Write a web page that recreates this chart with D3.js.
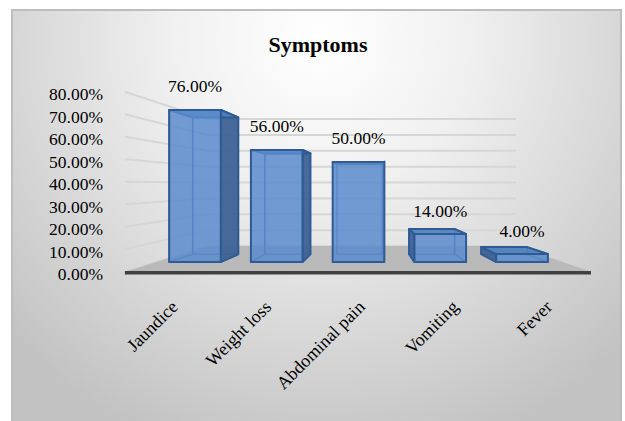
<!DOCTYPE html>
<html>
<head>
<meta charset="utf-8">
<script src="https://cdn.jsdelivr.net/npm/d3@7"></script>
<style>
body { margin: 0; background: #fff; }
svg { display: block; }
text { font-family: "Liberation Serif", "Times New Roman", serif; fill: #000; }
</style>
</head>
<body>
<script>
// Data
var categories = ['Jaundice', 'Weight loss', 'Abdominal pain', 'Vomiting', 'Fever'];
var values = [76, 56, 50, 14, 4];
var ticks = [0, 10, 20, 30, 40, 50, 60, 70, 80];

var width = 625, height = 421;
var svg = d3.select('body').append('svg')
	.attr('width', width)
	.attr('height', height);

// background
var defs = svg.append('defs');
var grad = defs.append('radialGradient')
	.attr('id', 'bg')
	.attr('gradientUnits', 'userSpaceOnUse')
	.attr('cx', 320).attr('cy', 40).attr('r', 430);
grad.append('stop').attr('offset', '0').attr('stop-color', '#ffffff');
grad.append('stop').attr('offset', '0.35').attr('stop-color', '#f0f0f0');
grad.append('stop').attr('offset', '1').attr('stop-color', '#c2c2c2');

svg.append('rect')
	.attr('x', 12).attr('y', 10)
	.attr('width', 609).attr('height', 420)
	.style('fill', 'url(#bg)')
	.style('stroke', '#bdbdbd')
	.style('stroke-width', 2);

// front plane (z=0) and back plane (z=1) of the 3d box
var xFront = d3.scaleLinear().domain([0, 5]).range([123, 591]);
var xBack = d3.scaleLinear().domain([0, 5]).range([206, 516]);
var yFront = d3.scaleLinear().domain([0, 80]).range([271.7, 91.7]);
var yBack = d3.scaleLinear().domain([0, 80]).range([246, 119]);

function proj(x, v, z) {
	return [xFront(x) * (1 - z) + xBack(x) * z, yFront(v) * (1 - z) + yBack(v) * z];
}
var line = d3.line();
var wallL = 0.02, wallR = 5;

// gridlines: side wall + back wall
var grid = svg.append('g');
ticks.forEach(function(t) {
	grid.append('path')
		.attr('d', line([proj(wallL, t, 0), proj(wallL, t, 1), proj(wallR, t, 1)]))
		.style('fill', 'none')
		.style('stroke', '#d6d6d6')
		.style('stroke-width', 2);
});

// floor
svg.append('path')
	.attr('d', line([proj(wallL, 0, 0), proj(wallR, 0, 0), proj(wallR, 0, 1), proj(wallL, 0, 1)]) + 'Z')
	.style('fill', '#b9b9b9');
var f0 = proj(wallL, 0, 0), f1 = proj(wallR, 0, 0);
svg.append('line')
	.attr('x1', f0[0]).attr('y1', f0[1] + 1)
	.attr('x2', f1[0]).attr('y2', f1[1] + 1)
	.style('stroke', '#404040')
	.style('stroke-width', 3.5);

// y axis labels
svg.append('g')
	.attr('transform', 'translate(103,2.5)')
	.call(d3.axisLeft(yFront).tickValues(ticks).tickSize(0).tickPadding(0)
		.tickFormat(function(d) { return d3.format('.2f')(d) + '%'; }))
	.call(function(g) { g.select('.domain').remove(); })
	.selectAll('text')
	.style('font-family', '"Liberation Serif", serif')
	.style('font-size', '17.5px')
	.style('fill', '#000');

// bars
var z1 = 0.375, z2 = 0.68, gap = 0.184;
var barColor = { front: '#5a8bcc', top: '#4e7ebf', side: '#3e6296', edge: '#2f5b95' };

values.forEach(function(v, i) {
	var x0 = i + gap, x1 = i + 1 - gap;
	var g = svg.append('g');
	function face(pts) { return line(pts) + 'Z'; }
	var front = [proj(x0, 0, z1), proj(x1, 0, z1), proj(x1, v, z1), proj(x0, v, z1)];
	var back = [proj(x0, 0, z2), proj(x1, 0, z2), proj(x1, v, z2), proj(x0, v, z2)];
	var top = [proj(x0, v, z1), proj(x1, v, z1), proj(x1, v, z2), proj(x0, v, z2)];
	var right = [proj(x1, 0, z1), proj(x1, 0, z2), proj(x1, v, z2), proj(x1, v, z1)];
	var left = [proj(x0, 0, z1), proj(x0, 0, z2), proj(x0, v, z2), proj(x0, v, z1)];
	var showRight = proj(x1, 0, z2)[0] > proj(x1, 0, z1)[0] + 0.5;
	var showLeft = proj(x0, 0, z2)[0] < proj(x0, 0, z1)[0] - 0.5;

	// hidden edges, seen through the faces
	[back, showRight ? left : right].forEach(function(p) {
		g.append('path').attr('d', face(p))
			.style('fill', 'none')
			.style('stroke', barColor.edge)
			.style('stroke-opacity', 0.7)
			.style('stroke-width', 1.5);
	});
	if (showRight || showLeft) {
		g.append('path').attr('d', face(showRight ? right : left))
			.style('fill', barColor.side)
			.style('fill-opacity', 0.95)
			.style('stroke', barColor.edge)
			.style('stroke-width', 2)
			.style('stroke-linejoin', 'round');
	}
	g.append('path').attr('d', face(top))
		.style('fill', barColor.top)
		.style('fill-opacity', 0.9)
		.style('stroke', barColor.edge)
		.style('stroke-width', 2)
		.style('stroke-linejoin', 'round');
	g.append('path').attr('d', face(front))
		.style('fill', barColor.front)
		.style('fill-opacity', 0.85)
		.style('stroke', barColor.edge)
		.style('stroke-width', 2)
		.style('stroke-linejoin', 'round');

	// value label
	var c = proj(i + 0.5, v, z1);
	svg.append('text')
		.attr('x', c[0])
		.attr('y', c[1] - 17.5)
		.attr('text-anchor', 'middle')
		.style('font-size', '17.5px')
		.text(d3.format('.2f')(v) + '%');
});

// category labels
categories.forEach(function(d, i) {
	var p = proj(i + 0.5, 0, 0);
	svg.append('text')
		.attr('transform', 'translate(' + (p[0] + 9) + ',308) rotate(-45)')
		.attr('text-anchor', 'end')
		.style('font-size', '18px')
		.text(d);
});

// title
svg.append('text')
	.attr('x', 318)
	.attr('y', 52)
	.attr('text-anchor', 'middle')
	.style('font-size', '22px')
	.style('font-weight', 'bold')
	.text('Symptoms');
</script>
</body>
</html>
